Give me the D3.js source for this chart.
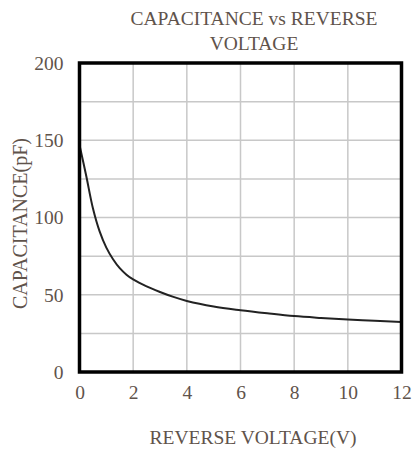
<!DOCTYPE html>
<html>
<head>
<meta charset="utf-8">
<script src="https://cdn.jsdelivr.net/npm/d3@7"></script>
<style>
  body { margin: 0; background: #fff; }
  text { font-family: "Liberation Serif", "Times New Roman", serif; fill: #5f534b; }
</style>
</head>
<body>
<div id="chart"></div>
<script>
const voltage = [0, 0.25, 0.5, 0.75, 1, 1.25, 1.5, 1.75, 2, 2.5, 3, 3.5, 4, 5, 6, 7, 8, 9, 10, 11, 12];
const capacitance = [147, 127, 106, 91, 80.5, 73, 67.2, 63, 59.9, 55.4, 51.8, 48.6, 46, 42.4, 40, 38, 36.2, 35, 34, 33.2, 32.4];
const xTicks = [0, 2, 4, 6, 8, 10, 12];
const yTicks = [0, 50, 100, 150, 200];
const yGrid = [25, 50, 75, 100, 125, 150, 175];
const titleLines = ["CAPACITANCE vs REVERSE", "VOLTAGE"];

const width = 414, height = 450;
const margin = { top: 63, right: 12.5, bottom: 78, left: 79.5 };

const svg = d3.select("#chart")
  .append("svg")
  .attr("width", width)
  .attr("height", height);

const x = d3.scaleLinear().domain([0, 12]).range([margin.left, width - margin.right]);
const y = d3.scaleLinear().domain([0, 200]).range([height - margin.bottom, margin.top]);

// grid
svg.append("g")
  .selectAll("line")
  .data(xTicks.slice(1, -1))
  .join("line")
    .attr("x1", d => x(d)).attr("x2", d => x(d))
    .attr("y1", y(0)).attr("y2", y(200))
    .attr("stroke", "#c8c8c8")
    .attr("stroke-width", 1.5);

svg.append("g")
  .selectAll("line")
  .data(yGrid)
  .join("line")
    .attr("x1", x(0)).attr("x2", x(12))
    .attr("y1", d => y(d)).attr("y2", d => y(d))
    .attr("stroke", "#c8c8c8")
    .attr("stroke-width", 1.5);

// curve
const line = d3.line()
  .x((d, i) => x(voltage[i]))
  .y(d => y(d))
  .curve(d3.curveCatmullRom.alpha(0.5));

svg.append("path")
  .datum(capacitance)
  .attr("d", line)
  .attr("fill", "none")
  .attr("stroke", "#222")
  .attr("stroke-width", 2);

// frame
svg.append("rect")
  .attr("x", x(0)).attr("y", y(200))
  .attr("width", x(12) - x(0))
  .attr("height", y(0) - y(200))
  .attr("fill", "none")
  .attr("stroke", "#000")
  .attr("stroke-width", 3.5);

// axes (labels only)
const xAxis = d3.axisBottom(x).tickValues(xTicks).tickSize(0).tickPadding(13);
svg.append("g")
  .attr("transform", `translate(0,${y(0)})`)
  .call(xAxis)
  .call(g => g.select(".domain").remove())
  .selectAll("text")
  .style("font-size", "19.5px")
  .style("font-family", "Liberation Serif, serif")
  .attr("fill", "#5f534b");

const yAxis = d3.axisLeft(y).tickValues(yTicks).tickSize(0).tickPadding(16);
svg.append("g")
  .attr("transform", `translate(${x(0)},0)`)
  .call(yAxis)
  .call(g => g.select(".domain").remove())
  .selectAll("text")
  .style("font-size", "19.5px")
  .style("font-family", "Liberation Serif, serif")
  .attr("fill", "#5f534b");

// titles
svg.append("g")
  .selectAll("text")
  .data(titleLines)
  .join("text")
    .attr("x", 254)
    .attr("y", (d, i) => 25 + i * 25)
    .attr("text-anchor", "middle")
    .style("font-size", "19.5px")
    .text(d => d);

svg.append("text")
  .attr("x", 253)
  .attr("y", 444)
  .attr("text-anchor", "middle")
  .style("font-size", "19.5px")
  .text("REVERSE VOLTAGE(V)");

svg.append("text")
  .attr("transform", `translate(27,${(y(0) + y(200)) / 2 + 6}) rotate(-90)`)
  .attr("text-anchor", "middle")
  .style("font-size", "20px")
  .text("CAPACITANCE(pF)");
</script>
</body>
</html>
